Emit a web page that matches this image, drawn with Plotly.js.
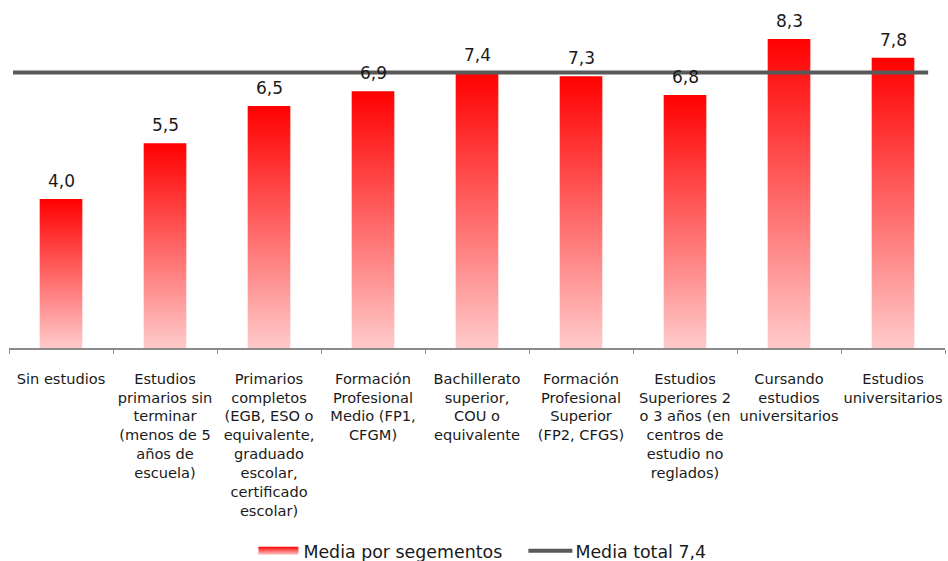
<!DOCTYPE html>
<html>
<head>
<meta charset="utf-8">
<script src="https://cdn.plot.ly/plotly-3.0.1.min.js"></script>
<style>html,body{margin:0;padding:0;background:#fff;}#chart{width:948px;height:561px;}</style>
</head>
<body>
<div id="chart"></div>
<script>
var categories = [
  "Sin estudios",
  "Estudios<br>primarios sin<br>terminar<br>(menos de 5<br>años de<br>escuela)",
  "Primarios<br>completos<br>(EGB, ESO o<br>equivalente,<br>graduado<br>escolar,<br>certificado<br>escolar)",
  "Formación<br>Profesional<br>Medio (FP1,<br>CFGM)",
  "Bachillerato<br>superior,<br>COU o<br>equivalente",
  "Formación<br>Profesional<br>Superior<br>(FP2, CFGS)",
  "Estudios<br>Superiores 2<br>o 3 años (en<br>centros de<br>estudio no<br>reglados)",
  "Cursando<br>estudios<br>universitarios",
  "Estudios<br>universitarios"
];
var mediaSegmentos = [4.0, 5.5, 6.5, 6.9, 7.4, 7.3, 6.8, 8.3, 7.8];
var mediaTotal = 7.4;
var seriesNames = ["Media por segementos", "Media total 7,4"];

var FONT = "DejaVu Sans, Verdana, sans-serif";

var barTrace = {
  type: "bar",
  x: categories,
  y: mediaSegmentos,
  name: seriesNames[0],
  width: 0.41,
  marker: {color: "#ff3030", line: {width: 0}},
  hoverinfo: "none"
};

var lineTrace = {
  type: "scatter",
  mode: "lines",
  xaxis: "x2",
  yaxis: "y",
  x: [0.0043, 0.982],
  y: [mediaTotal, mediaTotal],
  name: seriesNames[1],
  line: {color: "#595959", width: 4},
  hoverinfo: "none"
};

var valueLabels = mediaSegmentos.map(function(v, i){
  return {
    x: categories[i], y: v, xref: "x", yref: "y",
    text: v.toFixed(1).replace(".", ","),
    showarrow: false, yanchor: "bottom", yshift: 6,
    font: {family: FONT, size: 17, color: "#1a1a1a"}
  };
});

var layout = {
  width: 948,
  height: 561,
  margin: {l: 9, r: 3, t: 13, b: 213},
  paper_bgcolor: "#fff",
  plot_bgcolor: "#fff",
  separators: ",.",
  font: {family: FONT, color: "#1a1a1a"},
  showlegend: true,
  legend: {
    orientation: "h",
    xref: "container", yref: "container",
    x: 0.2673, xanchor: "left",
    y: 0.018, yanchor: "middle",
    font: {family: FONT, size: 17.4, color: "#1a1a1a"},
    itemwidth: 40,
    entrywidth: 217,
    entrywidthmode: "pixels",
    traceorder: "normal"
  },
  annotations: valueLabels,
  xaxis: {
    type: "category",
    showgrid: false,
    zeroline: false,
    showline: true,
    linecolor: "#8a8a8a",
    linewidth: 2,
    ticks: "outside",
    tickson: "boundaries",
    ticklen: 4,
    tickcolor: "#8a8a8a",
    tickwidth: 1,
    tickangle: 0,
    tickfont: {family: FONT, size: 14.6, color: "#1a1a1a"},
    ticklabelstandoff: 16,
    automargin: false,
    fixedrange: true
  },
  xaxis2: {
    overlaying: "x",
    range: [0, 1],
    visible: false,
    fixedrange: true
  },
  yaxis: {
    range: [0, 9],
    visible: false,
    showgrid: false,
    zeroline: false,
    fixedrange: true
  },
  bargap: 0.59
};

Plotly.newPlot("chart", [barTrace, lineTrace], layout, {displayModeBar: false, staticPlot: true}).then(function(gd){
  var NS = "http://www.w3.org/2000/svg";
  var svg = gd.querySelector(".main-svg");
  var defs = svg.querySelector("defs") || svg.insertBefore(document.createElementNS(NS, "defs"), svg.firstChild);
  var lg = document.createElementNS(NS, "linearGradient");
  lg.setAttribute("id", "barGrad");
  lg.setAttribute("x1", "0"); lg.setAttribute("y1", "0");
  lg.setAttribute("x2", "0"); lg.setAttribute("y2", "1");
  [["0", "#ff0000"], ["1", "#ffcaca"]].forEach(function(s){
    var st = document.createElementNS(NS, "stop");
    st.setAttribute("offset", s[0]);
    st.setAttribute("stop-color", s[1]);
    lg.appendChild(st);
  });
  defs.appendChild(lg);
  gd.querySelectorAll(".barlayer .point path").forEach(function(p){
    p.style.fill = "url(#barGrad)";
  });
  var legTraces = gd.querySelectorAll(".legend .traces");
  legTraces[0].querySelectorAll(".legendpoints path").forEach(function(p){
    p.setAttribute("d", "M-20,4H20V-4H-20Z");
    p.style.fill = "url(#barGrad)";
    p.style.stroke = "none";
  });
  legTraces[1].querySelectorAll(".legendlines path").forEach(function(p){
    var bb = p.getBBox();
    p.setAttribute("d", "M" + (bb.x - 2) + ",0h" + (bb.width + 4));
  });
});
</script>
</body>
</html>
